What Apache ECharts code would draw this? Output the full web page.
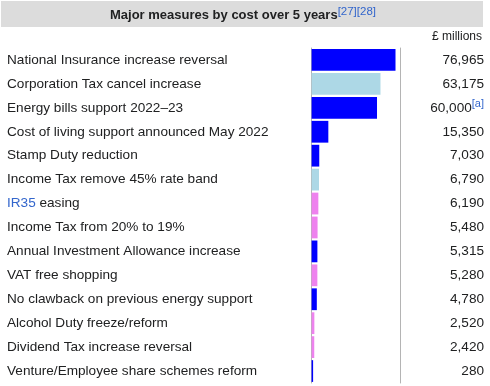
<!DOCTYPE html>
<html><head><meta charset="utf-8">
<script src="https://cdn.jsdelivr.net/npm/echarts@6/dist/echarts.min.js"></script>
<style>html,body{margin:0;padding:0;background:#fff}#c{width:490px;height:386px}</style>
</head><body><div id="c"></div>
<script>
const categories = [
  'National Insurance increase reversal',
  'Corporation Tax cancel increase',
  'Energy bills support 2022–23',
  'Cost of living support announced May 2022',
  'Stamp Duty reduction',
  'Income Tax remove 45% rate band',
  'IR35 easing',
  'Income Tax from 20% to 19%',
  'Annual Investment Allowance increase',
  'VAT free shopping',
  'No clawback on previous energy support',
  'Alcohol Duty freeze/reform',
  'Dividend Tax increase reversal',
  'Venture/Employee share schemes reform'
];
const values = [76965, 63175, 60000, 15350, 7030, 6790, 6190, 5480, 5315, 5280, 4780, 2520, 2420, 280];
const barColors = ['blue', 'lightblue', 'blue', 'blue', 'blue', 'lightblue', 'violet', 'violet', 'blue', 'violet', 'blue', 'violet', 'violet', 'blue'];
const footnotes = ['', '', '[a]', '', '', '', '', '', '', '', '', '', '', ''];
const titleText = 'Major measures by cost over 5 years';
const titleRefs = '[27][28]';
const unitText = '£ millions';

const palette = { blue: '#0000ff', lightblue: '#add8e6', violet: '#ee82ee' };
const FONT = '"Liberation Sans", Arial, sans-serif';
const chart = echarts.init(document.getElementById('c'));
chart.setOption({
  animation: false,
  backgroundColor: '#fff',
  grid: { left: 310, right: 90, top: 48, bottom: 3 },
  xAxis: { type: 'value', min: -1470, max: 81090, show: false },
  yAxis: [
    {
      type: 'category', inverse: true, data: categories,
      axisLine: { show: true, lineStyle: { color: '#b4b4b4', width: 1 } },
      axisTick: { show: false },
      axisLabel: {
        interval: 0, align: 'left', margin: 303, fontSize: 13.6, fontFamily: FONT, color: '#202122',
        formatter: function (v) {
          if (v.indexOf('IR35') === 0) return '{link|IR35}' + v.slice(4);
          return v;
        },
        rich: { link: { color: '#3366cc', fontSize: 13.6, fontFamily: FONT } }
      }
    },
    {
      type: 'category', inverse: true, position: 'right', data: categories,
      axisLine: { show: true, lineStyle: { color: '#b4b4b4', width: 1 } },
      axisTick: { show: false },
      axisLabel: {
        interval: 0, align: 'right', margin: 84, fontSize: 13.6, fontFamily: FONT, color: '#202122',
        formatter: function (v, i) {
          const s = values[i].toLocaleString('en-US');
          return footnotes[i] ? s + '{sup|' + footnotes[i] + '}' : s;
        },
        rich: { sup: { fontSize: 11, color: '#3366cc', fontFamily: FONT, padding: [0, 0, 7, 0] } }
      }
    }
  ],
  series: [{
    type: 'bar', yAxisIndex: 0, barCategoryGap: '9%', barMinHeight: 1.5,
    data: values.map((v, i) => ({ value: v, itemStyle: { color: palette[barColors[i]] } }))
  }],
  graphic: [
    { type: 'rect', shape: { x: 1, y: 1, width: 482, height: 26 }, style: { fill: '#dcdcdc' }, silent: true },
    {
      type: 'text', x: 243, y: 15,
      style: {
        text: '{b|' + titleText + '}{s|' + titleRefs + '}',
        align: 'center', verticalAlign: 'middle',
        rich: {
          b: { fontSize: 13, fontWeight: 'bold', fontFamily: FONT, fill: '#202122' },
          s: { fontSize: 11.5, fontFamily: FONT, fill: '#3366cc', padding: [0, 0, 7, 0] }
        }
      }
    },
    {
      type: 'text', x: 482, y: 37,
      style: { text: unitText, align: 'right', verticalAlign: 'middle', fontSize: 12, fontFamily: FONT, fill: '#202122' }
    }
  ]
});
</script>
</body></html>
